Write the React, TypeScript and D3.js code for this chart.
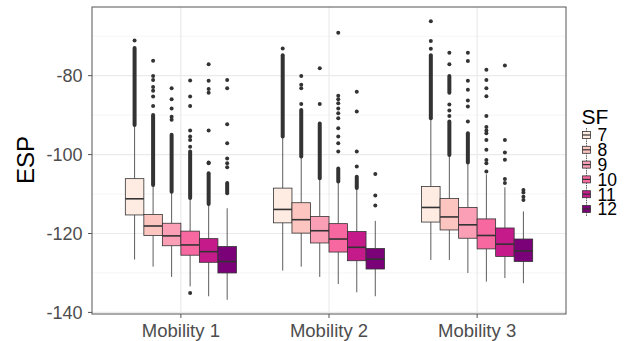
import React from "react";
import * as d3 from "d3";

const groups = ["Mobility 1", "Mobility 2", "Mobility 3"];
const sfLevels = ["7", "8", "9", "10", "11", "12"];
const sfColors = ["#feebe2", "#fcc5c0", "#fa9fb5", "#f768a1", "#c51b8a", "#7a0177"];
const yTicks = [-140, -120, -100, -80];
const yMinor = [-130, -110, -90, -70];

// one row per mobility, one value per SF
const whiskerLow = [
  [-126.6, -128.4, -131.0, -133.4, -135.9, -136.8],
  [-129.4, -128.4, -131.0, -132.8, -134.9, -135.9],
  [-126.7, -126.7, -130.0, -132.2, -131.3, -132.6],
];
const q1 = [
  [-115.3, -120.5, -123.1, -125.5, -127.3, -130.0],
  [-117.3, -119.9, -122.4, -124.7, -126.9, -129.0],
  [-117.1, -119.1, -121.2, -123.9, -125.8, -127.1],
];
const median = [
  [-111.2, -118.1, -120.6, -122.9, -124.6, -127.1],
  [-113.9, -116.5, -119.3, -121.4, -123.5, -126.5],
  [-113.4, -115.8, -117.8, -120.5, -122.7, -124.4],
];
const q3 = [
  [-106.1, -115.2, -117.4, -119.4, -121.3, -123.3],
  [-108.5, -112.2, -115.7, -117.5, -119.5, -123.8],
  [-108.1, -111.1, -113.4, -116.3, -118.6, -121.4],
];
const whiskerHigh = [
  [-92.5, -107.7, -109.4, -111.0, -112.5, -113.6],
  [-95.4, -100.5, -106.0, -106.8, -108.5, -116.8],
  [-90.8, -100.1, -102.0, -105.0, -108.3, -114.4],
];

// stretches where outlier points overlap into a solid column
const denseOutliers: [number, number][][][] = [
  [[[-92.5, -73.0]], [[-107.7, -90.0]], [[-109.4, -95.0]], [[-111.0, -99.2]], [[-112.5, -104.7]], [[-109.8, -107.2]]],
  [[[-95.4, -74.8]], [[-100.5, -88.7]], [[-106.0, -92.1]], [[-106.8, -103.5]], [[-108.5, -105.6]], []],
  [[[-90.8, -74.8]], [[-100.1, -91.6], [-84.3, -80.1]], [[-102.0, -94.6]], [], [], []],
];
const outliers = [
  [
    [-71.1],
    [-76.2, -80.1, -81.1, -82.9, -83.8, -85.3, -87.7],
    [-83.2, -86.0, -88.3, -90.4, -91.2],
    [-81.2, -85.3, -87.7, -93.9, -95.4, -96.3, -98.0, -135.1],
    [-77.1, -81.3, -83.4, -84.3, -93.9, -102.0, -102.2],
    [-81.1, -83.2, -92.3, -97.1, -101.0, -102.2, -103.2],
  ],
  [
    [-73.1],
    [-80.1, -82.3, -83.2, -87.2],
    [-78.1, -87.2],
    [-69.1, -85.1, -86.0, -87.0, -88.3, -89.5, -90.8, -93.3, -95.4, -97.1, -99.2],
    [-84.1, -89.1, -99.2, -103.0],
    [-104.9, -110.4, -112.9],
  ],
  [
    [-66.2, -71.2, -73.2],
    [-74.2, -77.1, -87.3, -88.8, -90.2],
    [-74.2, -76.3, -81.3, -83.6, -86.3, -87.8, -91.6],
    [-78.5, -81.1, -83.2, -85.2, -90.2, -93.0, -93.9, -94.6, -96.3, -98.8, -101.4, -102.2, -104.3],
    [-77.4, -96.3, -99.5, -101.3, -106.2, -107.2],
    [-109.0, -109.6, -110.7, -111.5],
  ],
];

const W = 631;
const H = 341;
const panel = { left: 92, right: 566, top: 7, bottom: 314 };
const font = "'Liberation Sans', Arial, Helvetica, sans-serif";
const boxW = 0.125;

export default function App() {
  const x = d3.scaleLinear().domain([0.4, 3.6]).range([panel.left, panel.right]);
  const y = d3.scaleLinear().domain([-140.4, -62.6]).range([panel.bottom, panel.top]);
  const bw = x(boxW) - x(0);
  const line = "#333333";

  const boxes: React.ReactNode[] = [];
  groups.forEach((g, gi) => {
    sfLevels.forEach((sf, si) => {
      const cx = x(gi + 1 + (si - 2.5) * boxW);
      const key = `${gi}-${si}`;
      boxes.push(
        <g key={key}>
          <line x1={cx} x2={cx} y1={y(whiskerLow[gi][si])} y2={y(q1[gi][si])} stroke={line} strokeWidth={0.8} />
          <line x1={cx} x2={cx} y1={y(q3[gi][si])} y2={y(whiskerHigh[gi][si])} stroke={line} strokeWidth={0.8} />
          {denseOutliers[gi][si].map((d, k) => (
            <line key={"d" + k} x1={cx} x2={cx} y1={y(d[0])} y2={y(d[1])} stroke={line} strokeWidth={4} strokeLinecap="round" />
          ))}
          {outliers[gi][si].map((v, k) => (
            <circle key={"o" + k} cx={cx} cy={y(v)} r={2} fill={line} />
          ))}
          <rect
            x={cx - bw / 2}
            y={y(q3[gi][si])}
            width={bw}
            height={y(q1[gi][si]) - y(q3[gi][si])}
            fill={sfColors[si]}
            stroke={line}
            strokeWidth={0.8}
          />
          <line x1={cx - bw / 2} x2={cx + bw / 2} y1={y(median[gi][si])} y2={y(median[gi][si])} stroke={line} strokeWidth={1.6} />
        </g>
      );
    });
  });

  const legendX = 582;
  const legendY0 = 135;
  const legendStep = 14.8;

  return (
    <svg width={W} height={H} style={{ position: "absolute", left: 0, top: 0, background: "#fff" }} fontFamily={font}>
      <rect x={panel.left} y={panel.top} width={panel.right - panel.left} height={panel.bottom - panel.top} fill="#fff" />
      {yMinor.map((t) => (
        <line key={"mn" + t} x1={panel.left} x2={panel.right} y1={y(t)} y2={y(t)} stroke="#f2f2f2" strokeWidth={0.8} />
      ))}
      {yTicks.map((t) => (
        <line key={"mj" + t} x1={panel.left} x2={panel.right} y1={y(t)} y2={y(t)} stroke="#ebebeb" strokeWidth={1.2} />
      ))}
      {groups.map((g, gi) => (
        <line key={"vx" + g} x1={x(gi + 1)} x2={x(gi + 1)} y1={panel.top} y2={panel.bottom} stroke="#ebebeb" strokeWidth={1.2} />
      ))}
      {boxes}
      <rect
        x={panel.left}
        y={panel.top}
        width={panel.right - panel.left}
        height={panel.bottom - panel.top}
        fill="none"
        stroke="#555"
        strokeWidth={1}
      />
      {yTicks.map((t) => (
        <g key={"yt" + t}>
          <line x1={panel.left - 4} x2={panel.left} y1={y(t)} y2={y(t)} stroke="#555" />
          <text x={panel.left - 9.5} y={y(t)} dy="0.35em" textAnchor="end" fontSize={18} fill="#4d4d4d">
            {t}
          </text>
        </g>
      ))}
      {groups.map((g, gi) => (
        <g key={"xt" + g}>
          <line x1={x(gi + 1)} x2={x(gi + 1)} y1={panel.bottom} y2={panel.bottom + 4} stroke="#555" />
          <text x={x(gi + 1)} y={336.5} textAnchor="middle" fontSize={18.5} fill="#4d4d4d">
            {g}
          </text>
        </g>
      ))}
      <text transform="translate(33.5,160) rotate(-90)" textAnchor="middle" fontSize={24} fill="#000">
        ESP
      </text>
      <text x={legendX - 0.5} y={123.5} fontSize={21} fill="#000">
        SF
      </text>
      {sfLevels.map((sf, si) => {
        const cy = legendY0 + si * legendStep;
        return (
          <g key={"lg" + sf}>
            <line x1={legendX + 4.5} x2={legendX + 4.5} y1={cy - 7} y2={cy + 7} stroke={line} strokeWidth={0.8} strokeDasharray="1.5,1" />
            <rect x={legendX + 0.5} y={cy - 3.5} width={8} height={7} fill={sfColors[si]} stroke={line} strokeWidth={0.8} />
            <line x1={legendX + 0.5} x2={legendX + 8.5} y1={cy} y2={cy} stroke={line} strokeWidth={1.2} />
            <text x={legendX + 15.5} y={cy} dy="0.36em" fontSize={17.5} fill="#000">
              {sf}
            </text>
          </g>
        );
      })}
    </svg>
  );
}
